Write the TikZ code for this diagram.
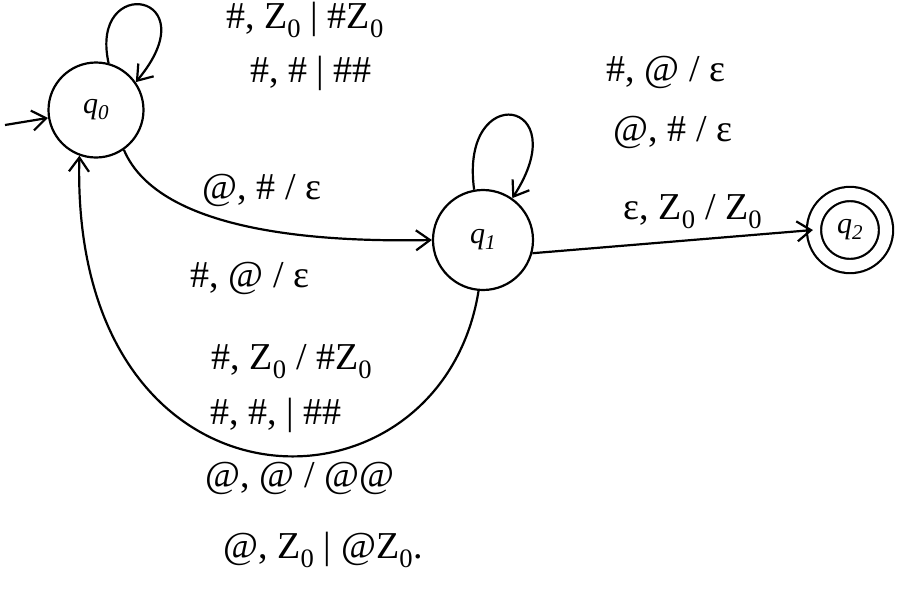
\documentclass[tikz,border=0pt]{standalone}
\usepackage{fontspec}
\setmainfont{Liberation Serif}
\usetikzlibrary{arrows.meta}
\newcommand{\zz}{Z\textsubscript{0}}
\begin{document}
\begin{tikzpicture}[x=1pt,y=-1pt,
  state/.style={draw,circle,line width=2.2pt,minimum size=95pt,inner sep=0pt,font=\fontsize{30}{34}\selectfont\itshape},
  accept/.style={state,double,double distance=12pt,minimum size=72pt},
  lbl/.style={font=\fontsize{38}{42}\selectfont,anchor=center,inner sep=1pt},
  edge/.style={line width=2.2pt,-{Straight Barb[length=14pt,width=20pt,line width=2.2pt]}}]
\useasboundingbox (0,0) rectangle (909,592);
\node[state] (q0) at (96,110) {q\textsubscript{0}};
\node[state,minimum size=100pt] (q1) at (483,240) {q\textsubscript{1}};
\node[accept] (q2) at (850,230) {q\textsubscript{2}};
\coordinate (start) at (5,125);
% initial
\draw[edge] (start) -- (q0);
% loop q0
\draw[edge] (q0.75) .. controls +(-20,-90) and +(75,-90) .. (q0.35);
\node[lbl] (l1) at (305,20) {\#, \zz\ | \#\zz};
\node[lbl] (l2) at (311,73) {\#, \# | \#\#};
% q0 -> q1
\draw[edge] (q0.-55) .. controls (160,235) and (330,242) .. (q1.west);
\node[lbl] (l3) at (262,190) {@, \# / ε};
\node[lbl] (l4) at (250,278) {\#, @ / ε};
% loop q1
\draw[edge] (q1.100) .. controls +(-15,-110) and +(65,-100) .. (q1.55);
\node[lbl] (l5) at (666,72) {\#, @ / ε};
\node[lbl] (l6) at (673,132) {@, \# / ε};
% q1 -> q2
\draw[edge] (q1.-15) -- (q2.west);
\node[lbl] (l7) at (693,212) {ε, \zz\ / \zz};
% q1 -> q0
\draw[edge] (q1.-95) .. controls (440,530) and (70,530) .. (q0.-110);
\node[lbl] (l8) at (292,362) {\#, \zz\ / \#\zz};
\node[lbl] (l9) at (276,415) {\#, \#, | \#\#};
\node[lbl] (l10) at (300,478) {@, @ / @@};
\node[lbl] (l11) at (323,550) {@, \zz\ | @\zz.};
\end{tikzpicture}
\end{document}
